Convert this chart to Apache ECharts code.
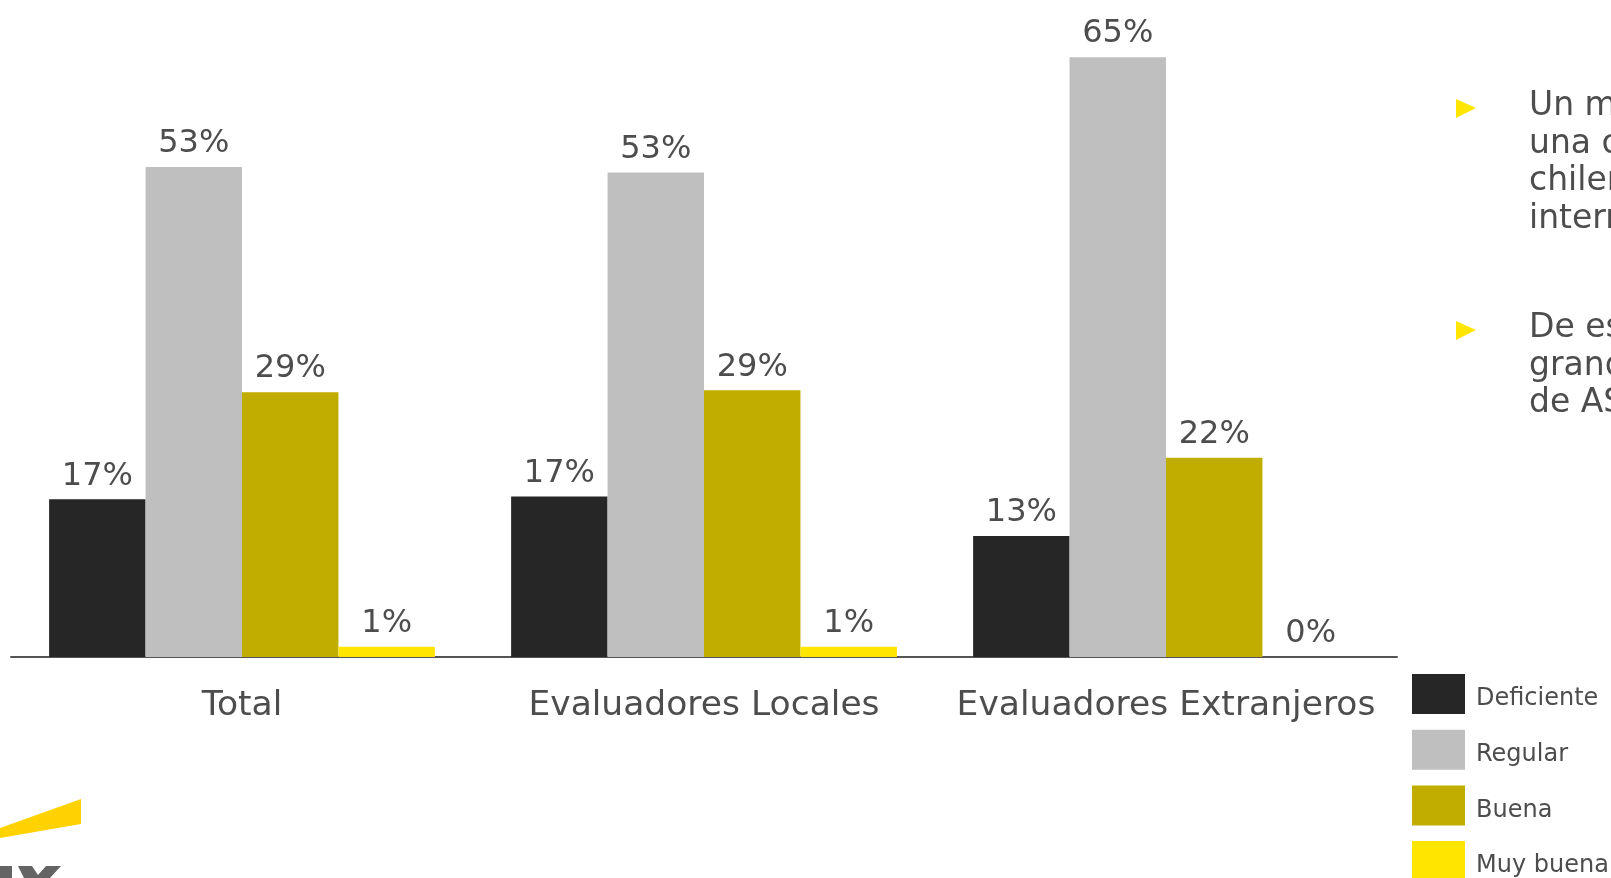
<!DOCTYPE html>
<html>
<head>
<meta charset="utf-8">
<script src="https://cdn.jsdelivr.net/npm/echarts@6/dist/echarts.min.js"></script>
<style>
html,body{margin:0;padding:0;background:#fff;overflow:hidden;}
#chart{width:1611px;height:878px;}
</style>
</head>
<body>
<div id="chart"></div>
<script>
const categories = ['Total', 'Evaluadores Locales', 'Evaluadores Extranjeros'];
const seriesNames = ['Deficiente', 'Regular', 'Buena', 'Muy buena'];
const deficiente = [17.1, 17.4, 13.1];
const regular = [53.1, 52.5, 65.0];
const buena = [28.7, 28.9, 21.6];
const muyBuena = [1.1, 1.1, 0];
const colors = ['#262626', '#bfbfbf', '#c0ad00', '#ffe600'];
const bulletLines1 = ['Un mayor', 'una opinión', 'chilenos', 'internacionales'];
const bulletLines2 = ['De estos', 'grandes', 'de ASG'];

const values = [deficiente, regular, buena, muyBuena];
const textColor = '#4d4d4d';
const fontFamily = '"DejaVu Sans", "Open Sans", sans-serif';

const chart = echarts.init(document.getElementById('chart'), null, {renderer: 'canvas'});

const series = seriesNames.map((name, i) => ({
  name: name,
  type: 'bar',
  data: values[i],
  barGap: '0%',
  barCategoryGap: '16.5%',
  itemStyle: {color: colors[i]},
  label: {
    show: true,
    position: 'top',
    distance: 7,
    color: textColor,
    fontSize: 32,
    fontFamily: fontFamily,
    formatter: p => Math.round(p.value) + '%'
  }
}));

const legends = seriesNames.map((name, i) => ({
  show: true,
  orient: 'vertical',
  left: 1412,
  top: 674 + i * 55.7,
  padding: 0,
  itemWidth: 53,
  itemHeight: 40,
  icon: 'rect',
  data: [name],
  formatter: '{t|{name}}',
  textStyle: {
    color: textColor, fontSize: 24, fontFamily: fontFamily,
    rich: {t: {color: textColor, fontSize: 24, fontFamily: fontFamily, padding: [10, 0, 0, 6]}}
  }
}));

const graphics = [
  {type: 'polygon', shape: {points: [[1456, 99], [1476, 108], [1456, 118]]}, style: {fill: '#ffe600'}},
  {type: 'polygon', shape: {points: [[1456, 321], [1476, 330], [1456, 340]]}, style: {fill: '#ffe600'}},
  {type: 'text', left: 1529, top: 88, style: {text: bulletLines1.join('\n'), fill: textColor, font: '33px ' + fontFamily, lineHeight: 37.5}},
  {type: 'text', left: 1529, top: 310, style: {text: bulletLines2.join('\n'), fill: textColor, font: '33px ' + fontFamily, lineHeight: 37.5}},
  {type: 'polygon', shape: {points: [[0, 828], [81, 799], [81, 824], [0, 838]]}, style: {fill: '#ffd200'}},
  {type: 'polygon', shape: {points: [[0, 866], [12, 866], [12, 878], [0, 878]]}, style: {fill: '#646464'}},
  {type: 'polygon', shape: {points: [[18, 866], [32, 866], [38, 875], [46, 866], [61, 866], [50, 878], [24, 878]]}, style: {fill: '#646464'}}
];

chart.setOption({
  animation: false,
  backgroundColor: '#ffffff',
  textStyle: {fontFamily: fontFamily},
  color: colors,
  grid: {left: 11, right: 214, top: 11, bottom: 221, containLabel: false},
  xAxis: {
    type: 'category',
    data: categories,
    axisLine: {show: true, lineStyle: {color: '#555555', width: 2}},
    axisTick: {show: false},
    axisLabel: {interval: 0, color: textColor, fontSize: 34.5, fontFamily: fontFamily, margin: 32}
  },
  yAxis: {
    type: 'value',
    min: 0,
    max: 70,
    show: false,
    splitLine: {show: false}
  },
  legend: legends,
  graphic: graphics,
  series: series
});
</script>
</body>
</html>
